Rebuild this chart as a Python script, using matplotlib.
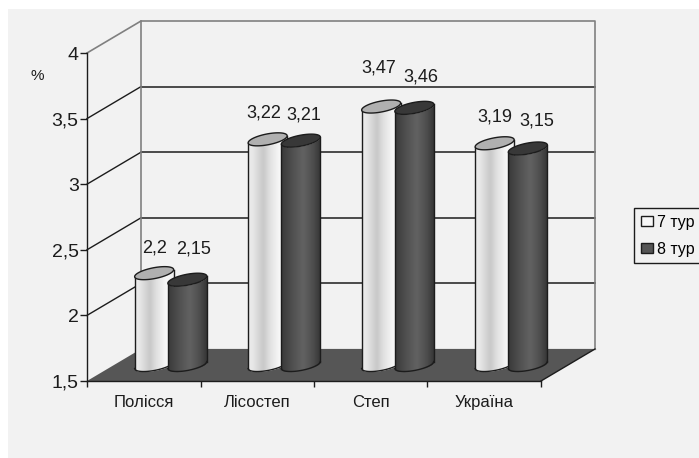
import numpy as np
import matplotlib
matplotlib.use("Agg")
import matplotlib.pyplot as plt
from matplotlib.patches import Patch, Polygon

categories = ["Полісся", "Лісостеп", "Степ", "Україна"]
series_7 = [2.2, 3.22, 3.47, 3.19]
series_8 = [2.15, 3.21, 3.46, 3.15]
series_names = ["7 тур", "8 тур"]
value_ticks = [1.5, 2, 2.5, 3, 3.5, 4]
value_tick_labels = ["1,5", "2", "2,5", "3", "3,5", "4"]
labels_7 = ["2,2", "3,22", "3,47", "3,19"]
labels_8 = ["2,15", "3,21", "3,46", "3,15"]

W, H = 699, 458
plt.rcParams["font.family"] = ["Liberation Sans", "DejaVu Sans"]
BG = "#f2f2f2"
INK = "#1c1c1c"
GREY = "#808080"
fig = plt.figure(figsize=(W / 100, H / 100), dpi=100, facecolor="white")
fig.patches.append(plt.Rectangle((8 / W, 0), (W - 8) / W, 1 - 9 / H,
                                 transform=fig.transFigure, fc=BG, ec="none", zorder=-5))
ax = fig.add_axes([87 / W, 1 - 381 / H, 454 / W, 328 / H])
ax.set_xlim(-0.5, 3.5)
ax.set_ylim(1.5, 4)
ax.patch.set_visible(False)
for s in ["top", "right"]:
    ax.spines[s].set_visible(False)
for s in ["left", "bottom"]:
    ax.spines[s].set_color(INK)
    ax.spines[s].set_linewidth(1.0)

DX = 54 / 113.5
DY = 32 / 131.2
x0, x1 = -0.5, 3.5
y0, y1 = 1.5, 4
# floor
ax.add_patch(Polygon([(x0, y0), (x1, y0), (x1 + DX, y0 + DY), (x0 + DX, y0 + DY)],
                     fc="#565656", ec="none", zorder=1, clip_on=False))
ax.plot([x1, x1 + DX], [y0, y0 + DY], color=INK, lw=1.0, zorder=2, clip_on=False)
# walls
for v in value_ticks[1:-1]:
    ax.plot([x0, x0 + DX], [v, v + DY], color=INK, lw=1.0, zorder=0.5, clip_on=False)
    ax.plot([x0 + DX, x1 + DX], [v + DY, v + DY], color=INK, lw=1.1, zorder=0.5, clip_on=False)
ax.plot([x0, x0 + DX, x1 + DX, x1 + DX], [y1, y1 + DY, y1 + DY, y0 + DY], color=GREY, lw=1.2,
        zorder=0.6, clip_on=False)
ax.plot([x0 + DX, x0 + DX], [y0 + DY, y1 + DY], color=GREY, lw=1.2, zorder=0.6, clip_on=False)
ax.plot([x0 + DX, x1 + DX], [y0 + DY, y0 + DY], color="#a8a8a8", lw=1.0, zorder=0.6, clip_on=False)

HALF = 19.5 / 113.5
SEP = 16.6 / 113.5
MID = 0.5
EB = 5.5 / 131.2
TILT = 3.5 / 131.2


def cylinder(cx, val, stops, top_col, z):
    cx = cx + MID * DX
    base = y0 + MID * DY
    top = val + MID * DY
    xs = np.linspace(-1, 1, 40)
    low = base + TILT * xs - EB * np.sqrt(1 - xs ** 2)
    high = top + TILT * xs - EB * np.sqrt(1 - xs ** 2)
    pos = (xs + 1) / 2
    shade = np.interp(pos, stops[0], stops[1])
    for i in range(len(xs) - 1):
        g = (shade[i] + shade[i + 1]) / 2 / 255
        j = min(i + 3, len(xs))
        ax.fill_between(cx + HALF * xs[i:j], low[i:j], high[i:j], color=(g, g, g),
                        lw=0, zorder=z, clip_on=False)
    ax.plot(cx + HALF * xs, low, color=INK, lw=1.0, zorder=z + 0.1, clip_on=False)
    ax.plot([cx - HALF] * 2, [base - TILT, top - TILT], color=INK, lw=1.0, zorder=z + 0.1, clip_on=False)
    ax.plot([cx + HALF] * 2, [base + TILT, top + TILT], color=INK, lw=1.0, zorder=z + 0.1, clip_on=False)
    t = np.linspace(0, 2 * np.pi, 100)
    ax.fill(cx + HALF * np.cos(t), top + TILT * np.cos(t) + EB * np.sin(t), fc=top_col, ec=INK, lw=1.0,
            zorder=z + 0.2, clip_on=False)


light = ([0, 0.12, 0.38, 0.55, 0.8, 1], [236, 230, 200, 225, 248, 238])
dark = ([0, 0.25, 0.55, 0.8, 1], [58, 78, 98, 78, 52])
offs_7 = [(0, 25), (-3.5, 26), (-2, 38.5), (0, 26)]
offs_8 = [(6, 31), (3, 26), (6, 31), (9, 27.5)]
for i in range(4):
    cylinder(i - SEP, series_7[i], light, "#b0b0b0", 3)
    cylinder(i + SEP, series_8[i], dark, "#383838", 4)
    for val, cx, lab, off in [(series_7[i], i - SEP, labels_7[i], offs_7[i]),
                              (series_8[i], i + SEP, labels_8[i], offs_8[i])]:
        ax.annotate(lab, (cx + MID * DX, val + MID * DY), xytext=(off[0] * 0.72, off[1] * 0.72),
                    textcoords="offset points", ha="center", va="center", fontsize=13, color=INK,
                    zorder=8, annotation_clip=False)

ax.set_yticks(value_ticks, value_tick_labels, fontsize=14, color=INK)
ax.set_xticks(np.arange(-0.5, 4, 1), [""] * 5)
ax.set_xticks(range(4), categories, minor=True, fontsize=12, color=INK)
ax.tick_params(axis="x", which="minor", length=0, pad=10)
ax.tick_params(axis="x", which="major", length=4, width=1, color=INK)
ax.tick_params(axis="y", length=5, width=1, color=INK, pad=1)
fig.text(37 / W, 1 - 76 / H, "%", fontsize=11, color=INK, ha="center", va="center")

handles = [Patch(fc="#f8f8f8", ec=INK, lw=1), Patch(fc="#555555", ec=INK, lw=1)]
fig.legend(handles, series_names, loc="upper left", bbox_to_anchor=(634 / W, 1 - 208 / H),
           borderaxespad=0, frameon=True, fancybox=False, edgecolor=INK, facecolor=BG, framealpha=1,
           fontsize=11.5, handlelength=0.8, handleheight=0.6, handletextpad=0.25, borderpad=0.42,
           labelspacing=0.75)
fig.savefig("out.png", dpi=100, facecolor=fig.get_facecolor())
